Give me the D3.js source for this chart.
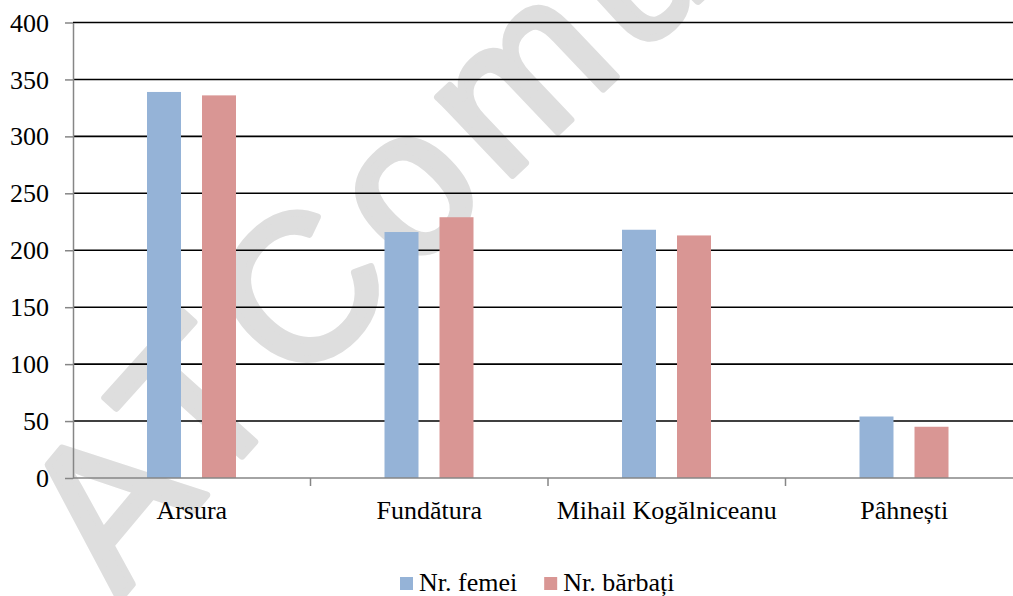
<!DOCTYPE html>
<meta charset="utf-8">
<style>
    body { margin: 0; background: #fff; }
    .axis path, .axis line { stroke: #868686; }
</style>
<svg id="chart" width="1013" height="596"></svg>
<script src="https://cdn.jsdelivr.net/npm/d3@7"></script>
<script>
    // data
    var categories = ["Arsura", "Fundătura", "Mihail Kogălniceanu", "Pâhnești"];
    var series = ["Nr. femei", "Nr. bărbați"];
    var femei = [339, 216, 218, 54];
    var barbati = [336, 229, 213, 45];
    var yTicks = [0, 50, 100, 150, 200, 250, 300, 350, 400];
    var colors = ["#95b3d7", "#d99694"];

    var serif = "'Liberation Serif', 'Times New Roman', Times, serif";
    var data = categories.map((c, i) => ({cat: c, vals: [femei[i], barbati[i]]}));

    var svg = d3.select("#chart");

    var x0 = d3.scaleBand().domain(categories).range([73, 1023]).padding(0);
    var x1 = d3.scaleBand().domain(series).range([74, 163]).paddingInner(0.382).paddingOuter(0);
    var y = d3.scaleLinear().domain([0, 400]).range([478, 22.5]);

    // watermark behind everything
    var wm = svg.append("g");
    wm.append("path").attr("id", "wmPath")
        .attr("d", "M 120,600 Q 360,300 800,-90")
        .attr("fill", "none");
    wm.append("text")
        .style("font-family", "'Liberation Sans', Arial, sans-serif")
        .style("font-size", "205px")
        .style("letter-spacing", "14px")
        .style("fill", "#dedede")
        .style("stroke", "#dedede")
        .style("stroke-width", 7)
        .style("stroke-linejoin", "round")
        .append("textPath").attr("href", "#wmPath")
        .text("ATComuna");

    // gridlines
    svg.append("g").selectAll("line")
        .data(yTicks.filter(d => d > 0))
        .enter().append("line")
        .attr("x1", 73).attr("x2", 1013)
        .attr("y1", d => y(d)).attr("y2", d => y(d))
        .style("stroke", "#000").style("stroke-width", 1.6);

    // bars
    var groups = svg.append("g").selectAll("g")
        .data(data).enter().append("g")
        .attr("transform", d => "translate(" + x0(d.cat) + ",0)");
    groups.selectAll("rect")
        .data(d => d.vals.map((v, j) => ({s: series[j], v: v, j: j})))
        .enter().append("rect")
        .attr("x", d => x1(d.s))
        .attr("width", x1.bandwidth())
        .attr("y", d => y(d.v))
        .attr("height", d => y(0) - y(d.v))
        .style("fill", d => colors[d.j]);

    // y axis
    var yAxis = svg.append("g").attr("class", "axis")
        .attr("transform", "translate(73,0)")
        .call(d3.axisLeft(y).tickValues(yTicks).tickSize(8).tickSizeOuter(0).tickPadding(16));
    yAxis.attr("font-family", null).attr("font-size", null);
    yAxis.selectAll("text").style("font-family", serif).style("font-size", "26px")
        .style("fill", "#000").attr("dy", "0.33em");
    yAxis.selectAll("line, path").style("stroke-width", 1.5);

    // x axis
    var xAxis = svg.append("g").attr("class", "axis")
        .attr("transform", "translate(0," + y(0) + ")")
        .call(d3.axisBottom(x0).tickSize(0).tickSizeOuter(0));
    xAxis.attr("font-family", null).attr("font-size", null);
    xAxis.select("path").attr("d", "M73,0H1013").style("stroke-width", 1.5);
    xAxis.selectAll("text").style("font-family", serif).style("font-size", "26px")
        .style("fill", "#000").attr("y", 41).attr("dy", 0);
    // tick marks at category boundaries
    xAxis.selectAll(".bound").data(categories.slice(1))
        .enter().append("line").attr("class", "bound")
        .attr("x1", d => x0(d)).attr("x2", d => x0(d))
        .attr("y1", 0).attr("y2", 8)
        .style("stroke", "#868686").style("stroke-width", 1.5);

    // legend
    var legend = svg.append("g");
    var lx = 400;
    series.forEach(function(s, i) {
        legend.append("rect").attr("x", lx).attr("y", 577)
            .attr("width", 13).attr("height", 13).style("fill", colors[i]);
        var t = legend.append("text").attr("x", lx + 19).attr("y", 591)
            .style("font-family", serif).style("font-size", "26px").style("fill", "#000").text(s);
        lx += 19 + t.node().getComputedTextLength() + 27;
    });
</script>
